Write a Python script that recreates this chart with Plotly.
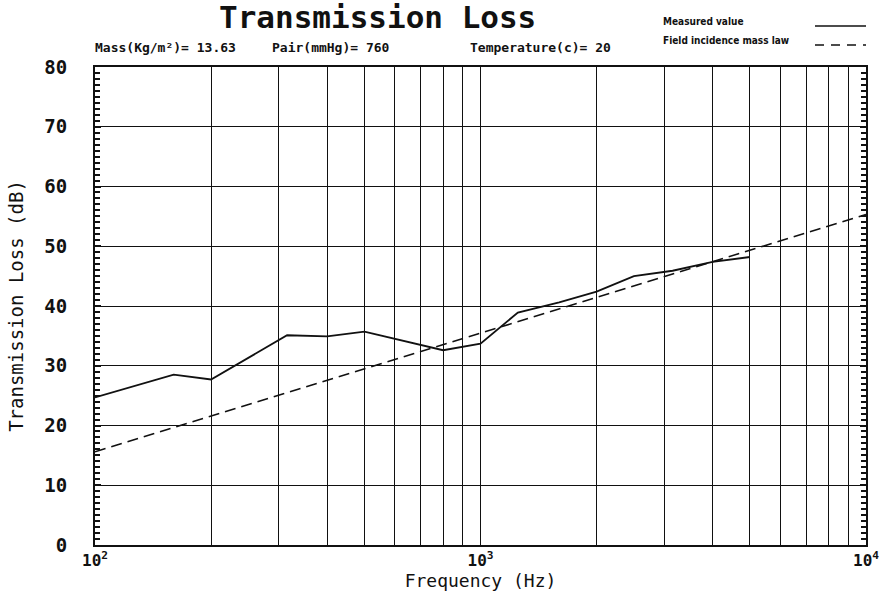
import plotly.graph_objects as go

# Measured transmission loss (vertices)
freq_measured = [100, 160, 200, 315, 400, 500, 800, 1000, 1250, 1600, 2000, 2500, 3150, 4000, 5000]
tl_measured = [24.7, 28.5, 27.7, 35.1, 34.9, 35.7, 32.6, 33.7, 38.9, 40.6, 42.4, 45.0, 45.9, 47.4, 48.2]

# Field incidence mass law (straight line on log axis, endpoints read)
freq_masslaw = [100, 10000]
tl_masslaw = [15.6, 55.3]

# Axis ticks
x_tickvals = [100, 200, 300, 400, 500, 600, 700, 800, 900,
              1000, 2000, 3000, 4000, 5000, 6000, 7000, 8000, 9000, 10000]
x_ticktext = ["10<sup>2</sup>", "", "", "", "", "", "", "", "",
              "10<sup>3</sup>", "", "", "", "", "", "", "", "", "10<sup>4</sup>"]

MONO = "DejaVu Sans Mono"
NARROW = "Liberation Sans Narrow, DejaVu Sans Condensed, sans-serif"
INK = "#111111"

# plot area in pixels
L, R, T, B = 95, 866, 67, 545
W, H = 889, 596


def px(x):
    return (x - L) / (R - L)


def py(y):
    return (B - y) / (B - T)


fig = go.Figure()
fig.add_trace(go.Scatter(x=freq_measured, y=tl_measured, mode="lines",
                         line=dict(color=INK, width=1.8), name="Measured value",
                         showlegend=False))
fig.add_trace(go.Scatter(x=freq_masslaw, y=tl_masslaw, mode="lines",
                         line=dict(color=INK, width=1.6, dash="11px,6px"),
                         name="Field incidence mass law", showlegend=False))
# invisible companion trace to carry the right-hand tick axis
fig.add_trace(go.Scatter(x=freq_masslaw, y=tl_masslaw, mode="lines", yaxis="y2",
                         line=dict(width=0), opacity=0, hoverinfo="skip", showlegend=False))

fig.update_layout(
    width=W, height=H,
    margin=dict(l=L, r=W - R, t=T, b=H - B, autoexpand=False),
    paper_bgcolor="white", plot_bgcolor="white",
    font=dict(family=MONO, color=INK),
)

fig.update_xaxes(
    type="log", range=[2, 4], automargin=False,
    tickvals=x_tickvals, ticktext=x_ticktext,
    tickfont=dict(family=MONO, size=16, color=INK, weight="bold"),
    showgrid=True, gridcolor=INK, gridwidth=1.3,
    showline=True, linecolor=INK, linewidth=2, mirror=True,
    ticks="", zeroline=False,
    title=dict(text="Frequency (Hz)", font=dict(family=MONO, size=18, color=INK), standoff=5),
)
fig.update_layout(
    yaxis=dict(
        range=[0, 80], automargin=False,
        tickmode="linear", tick0=0, dtick=10,
        tickfont=dict(family=MONO, size=19, color=INK, weight="bold"),
        ticklabelstandoff=22,
        showgrid=True, gridcolor=INK, gridwidth=1.3,
        showline=True, linecolor=INK, linewidth=2, mirror=True,
        ticks="inside", ticklen=6, tickcolor=INK, tickwidth=1.5,
        minor=dict(dtick=1, ticks="inside", ticklen=5, tickcolor=INK, tickwidth=1.5, showgrid=False),
        zeroline=False,
        title=dict(text="Transmission Loss (dB)", font=dict(family=MONO, size=19, color=INK), standoff=16),
    ),
    yaxis2=dict(
        range=[0, 80], overlaying="y", side="right", automargin=False,
        tickmode="linear", tick0=0, dtick=10, showticklabels=False,
        showgrid=False, zeroline=False, showline=False,
        ticks="inside", ticklen=6, tickcolor=INK, tickwidth=1.5,
        minor=dict(dtick=1, ticks="inside", ticklen=5, tickcolor=INK, tickwidth=1.5, showgrid=False),
    ),
)

# Title and parameter line
annos = [
    ("Transmission Loss", 377, 17, dict(family=MONO, size=31, color=INK, weight="bold")),
    ("Mass(Kg/m²)= 13.63", 165, 47, dict(family=MONO, size=13, color=INK, weight="bold")),
    ("Pair(mmHg)= 760", 331, 47, dict(family=MONO, size=13, color=INK, weight="bold")),
    ("Temperature(c)= 20", 540, 47, dict(family=MONO, size=13, color=INK, weight="bold")),
]
for text, xx, yy, fnt in annos:
    fig.add_annotation(text=text, x=px(xx), y=py(yy), xref="paper", yref="paper",
                       xanchor="center", yanchor="middle", showarrow=False, font=fnt)

# Legend (text left, line sample right)
legend_items = [("Measured value", 22, "solid"), ("Field incidence mass law", 41, "9px,7px")]
for label, ypix, dash in legend_items:
    fig.add_annotation(text="<b>" + label + "</b>", x=px(661), y=py(ypix),
                       xref="paper", yref="paper", xanchor="left", yanchor="middle",
                       showarrow=False, font=dict(family=NARROW, size=10, color=INK))
    fig.add_shape(type="line", xref="paper", yref="paper",
                  x0=px(815), x1=px(866), y0=py(ypix + 4), y1=py(ypix + 4),
                  line=dict(color=INK, width=1.4, dash=dash))

fig.write_html("out.html",
               config={"displayModeBar": False},
               post_script="document.body.style.margin='0px';document.body.style.overflow='hidden';")
